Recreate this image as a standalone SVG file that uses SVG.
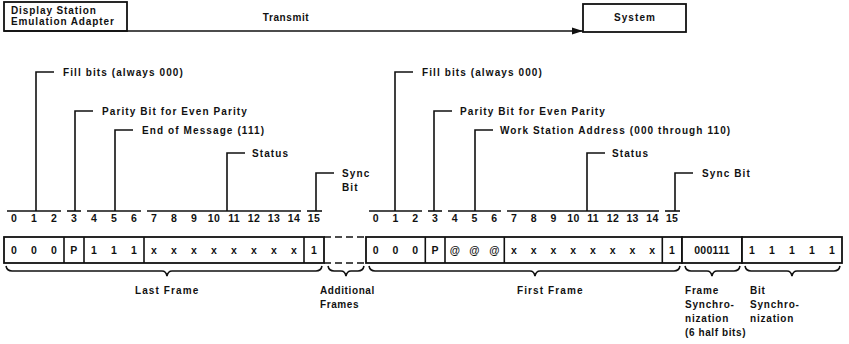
<svg xmlns="http://www.w3.org/2000/svg" width="849" height="344" viewBox="0 0 849 344">
<style>
.ln{stroke:#111;stroke-width:1.6;fill:none}
.bx{stroke:#111;stroke-width:1.8;fill:#fff}
.t{font-family:"Liberation Sans",Arial,sans-serif;font-weight:bold;font-size:10px;letter-spacing:1.1px;fill:#111}
.s{font-size:10px;letter-spacing:0.9px}
.d{font-family:"Liberation Sans",Arial,sans-serif;font-weight:bold;font-size:10.5px;letter-spacing:0.3px;fill:#111;text-anchor:middle}
.c{text-anchor:middle}
.dash{stroke:#111;stroke-width:1.6;stroke-dasharray:7 4;fill:none}
</style>
<defs>
<marker id="ah" markerWidth="12" markerHeight="8" refX="11" refY="4" orient="auto" markerUnits="userSpaceOnUse">
<path d="M0,0.5 L11,4 L0,7.5 Z" fill="#111"/>
</marker>
</defs>
<rect width="849" height="344" fill="#fff"/>

<g id="dsea">
<rect class="bx" x="4" y="2" width="123" height="29"/>
<text class="t s" x="11" y="14">Display Station</text>
<text class="t s" x="11" y="25">Emulation Adapter</text>
</g>
<g id="system">
<rect class="bx" x="583" y="4" width="103" height="28"/>
<text class="t c" x="635" y="21">System</text>
</g>

<g id="connectors">
<line class="ln" x1="4" y1="31" x2="583" y2="31" marker-end="url(#ah)"/>
<text class="t c" x="286" y="21" style="letter-spacing:0.6px">Transmit</text>
<polyline class="ln" points="36,211 36,72 54,72"/>
<polyline class="ln" points="75,211 75,111 93,111"/>
<polyline class="ln" points="115,211 115,130 133,130"/>
<polyline class="ln" points="227,211 227,153 245,153"/>
<polyline class="ln" points="316,211 316,173 334,173"/>
<polyline class="ln" points="395,211 395,72 413,72"/>
<polyline class="ln" points="434,211 434,111 452,111"/>
<polyline class="ln" points="475,211 475,130 493,130"/>
<polyline class="ln" points="587,211 587,153 605,153"/>
<polyline class="ln" points="675,211 675,173 693,173"/>
<line class="ln" x1="7" y1="211" x2="61" y2="211"/>
<line class="ln" x1="67" y1="211" x2="81" y2="211"/>
<line class="ln" x1="87" y1="211" x2="141" y2="211"/>
<line class="ln" x1="147" y1="211" x2="301" y2="211"/>
<line class="ln" x1="307" y1="211" x2="322" y2="211"/>
<line class="ln" x1="369" y1="211" x2="422" y2="211"/>
<line class="ln" x1="428" y1="211" x2="442" y2="211"/>
<line class="ln" x1="448" y1="211" x2="501" y2="211"/>
<line class="ln" x1="507" y1="211" x2="659" y2="211"/>
<line class="ln" x1="665" y1="211" x2="680" y2="211"/>
<path class="ln" d="M6,266 q1,5 6,5 H162 q4,0 5,5 q1,-5 5,-5 H316 q5,0 6,-5"/>
<path class="ln" d="M328,266 q1,5 6,5 H341 q4,0 5,5 q1,-5 5,-5 H358 q5,0 6,-5"/>
<path class="ln" d="M369,266 q1,5 6,5 H530 q4,0 5,5 q1,-5 5,-5 H674 q5,0 6,-5"/>
<path class="ln" d="M685,266 q1,5 6,5 H707 q4,0 5,5 q1,-5 5,-5 H734 q5,0 6,-5"/>
<path class="ln" d="M745,266 q1,5 6,5 H787 q4,0 5,5 q1,-5 5,-5 H834 q5,0 6,-5"/>
</g>

<g id="annotations">
<text class="t" x="63" y="76">Fill bits (always 000)</text>
<text class="t" x="102" y="115">Parity Bit for Even Parity</text>
<text class="t" x="142" y="134">End of Message (111)</text>
<text class="t" x="252" y="157">Status</text>
<text class="t" x="342" y="177">Sync</text>
<text class="t" x="342" y="191">Bit</text>
<text class="t" x="422" y="76">Fill bits (always 000)</text>
<text class="t" x="460" y="115">Parity Bit for Even Parity</text>
<text class="t" x="500" y="134">Work Station Address (000 through 110)</text>
<text class="t" x="612" y="157">Status</text>
<text class="t" x="702" y="177">Sync Bit</text>
</g>

<g id="last-frame">
<g class="d">
<text x="14" y="222">0</text><text x="34" y="222">1</text><text x="54" y="222">2</text><text x="74" y="222">3</text>
<text x="94" y="222">4</text><text x="114" y="222">5</text><text x="134" y="222">6</text><text x="154" y="222">7</text>
<text x="174" y="222">8</text><text x="194" y="222">9</text><text x="214" y="222">10</text><text x="234" y="222">11</text>
<text x="254" y="222">12</text><text x="274" y="222">13</text><text x="294" y="222">14</text><text x="314" y="222">15</text>
</g>
<rect class="bx" x="4" y="237" width="320" height="26"/>
<line class="ln" x1="64" y1="237" x2="64" y2="263"/>
<line class="ln" x1="84" y1="237" x2="84" y2="263"/>
<line class="ln" x1="144" y1="237" x2="144" y2="263"/>
<line class="ln" x1="304" y1="237" x2="304" y2="263"/>
<g class="d">
<text x="14" y="254">0</text><text x="34" y="254">0</text><text x="54" y="254">0</text><text x="74" y="254">P</text>
<text x="94" y="254">1</text><text x="114" y="254">1</text><text x="134" y="254">1</text>
<text x="154" y="254">x</text><text x="174" y="254">x</text><text x="194" y="254">x</text><text x="214" y="254">x</text>
<text x="234" y="254">x</text><text x="254" y="254">x</text><text x="274" y="254">x</text><text x="294" y="254">x</text>
<text x="314" y="254">1</text>
</g>
<text class="t" x="135" y="294">Last Frame</text>
</g>

<g id="additional-frames">
<line class="dash" x1="324" y1="237" x2="366" y2="237"/>
<line class="dash" x1="324" y1="263" x2="366" y2="263"/>
<text class="t" x="320" y="294" style="letter-spacing:0.6px">Additional</text>
<text class="t" x="320" y="308" style="letter-spacing:0.6px">Frames</text>
</g>

<g id="first-frame">
<g class="d">
<text x="375.9" y="222">0</text><text x="395.6" y="222">1</text><text x="415.4" y="222">2</text><text x="435.1" y="222">3</text>
<text x="454.9" y="222">4</text><text x="474.6" y="222">5</text><text x="494.4" y="222">6</text><text x="514.1" y="222">7</text>
<text x="533.9" y="222">8</text><text x="553.6" y="222">9</text><text x="573.4" y="222">10</text><text x="593.1" y="222">11</text>
<text x="612.9" y="222">12</text><text x="632.6" y="222">13</text><text x="652.4" y="222">14</text><text x="672.1" y="222">15</text>
</g>
<rect class="bx" x="366" y="237" width="316" height="26"/>
<line class="ln" x1="425.3" y1="237" x2="425.3" y2="263"/>
<line class="ln" x1="445" y1="237" x2="445" y2="263"/>
<line class="ln" x1="504.3" y1="237" x2="504.3" y2="263"/>
<line class="ln" x1="662.3" y1="237" x2="662.3" y2="263"/>
<g class="d">
<text x="375.9" y="254">0</text><text x="395.6" y="254">0</text><text x="415.4" y="254">0</text><text x="435.1" y="254">P</text>
<text x="454.9" y="254">@</text><text x="474.6" y="254">@</text><text x="494.4" y="254">@</text>
<text x="514.1" y="254">x</text><text x="533.9" y="254">x</text><text x="553.6" y="254">x</text><text x="573.4" y="254">x</text>
<text x="593.1" y="254">x</text><text x="612.9" y="254">x</text><text x="632.6" y="254">x</text><text x="652.4" y="254">x</text>
<text x="672.1" y="254">1</text>
</g>
<text class="t" x="517" y="294">First Frame</text>
</g>

<g id="frame-sync">
<rect class="bx" x="682" y="237" width="60" height="26"/>
<text class="d" x="712" y="254">000111</text>
<text class="t" x="685" y="294" style="letter-spacing:0.8px">Frame</text>
<text class="t" x="685" y="308" style="letter-spacing:0.8px">Synchro-</text>
<text class="t" x="685" y="322" style="letter-spacing:0.8px">nization</text>
<text class="t" x="685" y="336" style="letter-spacing:0.6px">(6 half bits)</text>
</g>

<g id="bit-sync">
<rect class="bx" x="742" y="237" width="100" height="26"/>
<g class="d">
<text x="752" y="254">1</text><text x="772" y="254">1</text><text x="792" y="254">1</text><text x="812" y="254">1</text><text x="832" y="254">1</text>
</g>
<text class="t" x="750" y="294" style="letter-spacing:0.8px">Bit</text>
<text class="t" x="750" y="308" style="letter-spacing:0.8px">Synchro-</text>
<text class="t" x="750" y="322" style="letter-spacing:0.8px">nization</text>
</g>
</svg>
